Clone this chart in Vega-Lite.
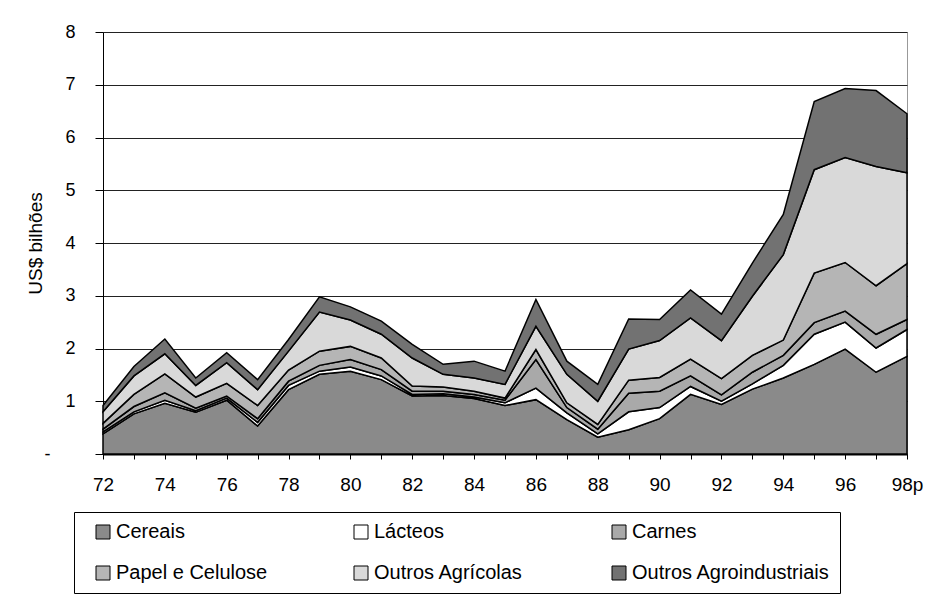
{
  "$schema": "https://vega.github.io/schema/vega-lite/v6.json",
  "width": 804,
  "height": 422,
  "autosize": "none",
  "padding": {"left": 103, "top": 32, "right": 35, "bottom": 155},
  "background": "white",
  "config": {
    "view": {"stroke": "#999999", "strokeWidth": 1},
    "font": "Liberation Sans"
  },
  "data": {
    "values": [
      {"ano": 72, "grupo": "Cereais", "ordem": 1, "valor": 0.38}, {"ano": 72, "grupo": "Lácteos", "ordem": 2, "valor": 0.04}, {"ano": 72, "grupo": "Carnes", "ordem": 3, "valor": 0.05}, {"ano": 72, "grupo": "Papel e Celulose", "ordem": 4, "valor": 0.11}, {"ano": 72, "grupo": "Outros Agrícolas", "ordem": 5, "valor": 0.22}, {"ano": 72, "grupo": "Outros Agroindustriais", "ordem": 6, "valor": 0.12},
      {"ano": 73, "grupo": "Cereais", "ordem": 1, "valor": 0.76}, {"ano": 73, "grupo": "Lácteos", "ordem": 2, "valor": 0.04}, {"ano": 73, "grupo": "Carnes", "ordem": 3, "valor": 0.10}, {"ano": 73, "grupo": "Papel e Celulose", "ordem": 4, "valor": 0.23}, {"ano": 73, "grupo": "Outros Agrícolas", "ordem": 5, "valor": 0.35}, {"ano": 73, "grupo": "Outros Agroindustriais", "ordem": 6, "valor": 0.18},
      {"ano": 74, "grupo": "Cereais", "ordem": 1, "valor": 0.96}, {"ano": 74, "grupo": "Lácteos", "ordem": 2, "valor": 0.06}, {"ano": 74, "grupo": "Carnes", "ordem": 3, "valor": 0.14}, {"ano": 74, "grupo": "Papel e Celulose", "ordem": 4, "valor": 0.36}, {"ano": 74, "grupo": "Outros Agrícolas", "ordem": 5, "valor": 0.38}, {"ano": 74, "grupo": "Outros Agroindustriais", "ordem": 6, "valor": 0.28},
      {"ano": 75, "grupo": "Cereais", "ordem": 1, "valor": 0.79}, {"ano": 75, "grupo": "Lácteos", "ordem": 2, "valor": 0.03}, {"ano": 75, "grupo": "Carnes", "ordem": 3, "valor": 0.05}, {"ano": 75, "grupo": "Papel e Celulose", "ordem": 4, "valor": 0.21}, {"ano": 75, "grupo": "Outros Agrícolas", "ordem": 5, "valor": 0.22}, {"ano": 75, "grupo": "Outros Agroindustriais", "ordem": 6, "valor": 0.14},
      {"ano": 76, "grupo": "Cereais", "ordem": 1, "valor": 1.02}, {"ano": 76, "grupo": "Lácteos", "ordem": 2, "valor": 0.04}, {"ano": 76, "grupo": "Carnes", "ordem": 3, "valor": 0.04}, {"ano": 76, "grupo": "Papel e Celulose", "ordem": 4, "valor": 0.24}, {"ano": 76, "grupo": "Outros Agrícolas", "ordem": 5, "valor": 0.39}, {"ano": 76, "grupo": "Outros Agroindustriais", "ordem": 6, "valor": 0.19},
      {"ano": 77, "grupo": "Cereais", "ordem": 1, "valor": 0.53}, {"ano": 77, "grupo": "Lácteos", "ordem": 2, "valor": 0.07}, {"ano": 77, "grupo": "Carnes", "ordem": 3, "valor": 0.07}, {"ano": 77, "grupo": "Papel e Celulose", "ordem": 4, "valor": 0.25}, {"ano": 77, "grupo": "Outros Agrícolas", "ordem": 5, "valor": 0.30}, {"ano": 77, "grupo": "Outros Agroindustriais", "ordem": 6, "valor": 0.19},
      {"ano": 78, "grupo": "Cereais", "ordem": 1, "valor": 1.22}, {"ano": 78, "grupo": "Lácteos", "ordem": 2, "valor": 0.08}, {"ano": 78, "grupo": "Carnes", "ordem": 3, "valor": 0.08}, {"ano": 78, "grupo": "Papel e Celulose", "ordem": 4, "valor": 0.21}, {"ano": 78, "grupo": "Outros Agrícolas", "ordem": 5, "valor": 0.36}, {"ano": 78, "grupo": "Outros Agroindustriais", "ordem": 6, "valor": 0.22},
      {"ano": 79, "grupo": "Cereais", "ordem": 1, "valor": 1.51}, {"ano": 79, "grupo": "Lácteos", "ordem": 2, "valor": 0.06}, {"ano": 79, "grupo": "Carnes", "ordem": 3, "valor": 0.11}, {"ano": 79, "grupo": "Papel e Celulose", "ordem": 4, "valor": 0.27}, {"ano": 79, "grupo": "Outros Agrícolas", "ordem": 5, "valor": 0.74}, {"ano": 79, "grupo": "Outros Agroindustriais", "ordem": 6, "valor": 0.29},
      {"ano": 80, "grupo": "Cereais", "ordem": 1, "valor": 1.57}, {"ano": 80, "grupo": "Lácteos", "ordem": 2, "valor": 0.08}, {"ano": 80, "grupo": "Carnes", "ordem": 3, "valor": 0.14}, {"ano": 80, "grupo": "Papel e Celulose", "ordem": 4, "valor": 0.25}, {"ano": 80, "grupo": "Outros Agrícolas", "ordem": 5, "valor": 0.50}, {"ano": 80, "grupo": "Outros Agroindustriais", "ordem": 6, "valor": 0.25},
      {"ano": 81, "grupo": "Cereais", "ordem": 1, "valor": 1.41}, {"ano": 81, "grupo": "Lácteos", "ordem": 2, "valor": 0.07}, {"ano": 81, "grupo": "Carnes", "ordem": 3, "valor": 0.12}, {"ano": 81, "grupo": "Papel e Celulose", "ordem": 4, "valor": 0.22}, {"ano": 81, "grupo": "Outros Agrícolas", "ordem": 5, "valor": 0.45}, {"ano": 81, "grupo": "Outros Agroindustriais", "ordem": 6, "valor": 0.25},
      {"ano": 82, "grupo": "Cereais", "ordem": 1, "valor": 1.10}, {"ano": 82, "grupo": "Lácteos", "ordem": 2, "valor": 0.03}, {"ano": 82, "grupo": "Carnes", "ordem": 3, "valor": 0.06}, {"ano": 82, "grupo": "Papel e Celulose", "ordem": 4, "valor": 0.10}, {"ano": 82, "grupo": "Outros Agrícolas", "ordem": 5, "valor": 0.53}, {"ano": 82, "grupo": "Outros Agroindustriais", "ordem": 6, "valor": 0.26},
      {"ano": 83, "grupo": "Cereais", "ordem": 1, "valor": 1.11}, {"ano": 83, "grupo": "Lácteos", "ordem": 2, "valor": 0.03}, {"ano": 83, "grupo": "Carnes", "ordem": 3, "valor": 0.05}, {"ano": 83, "grupo": "Papel e Celulose", "ordem": 4, "valor": 0.08}, {"ano": 83, "grupo": "Outros Agrícolas", "ordem": 5, "valor": 0.24}, {"ano": 83, "grupo": "Outros Agroindustriais", "ordem": 6, "valor": 0.19},
      {"ano": 84, "grupo": "Cereais", "ordem": 1, "valor": 1.05}, {"ano": 84, "grupo": "Lácteos", "ordem": 2, "valor": 0.03}, {"ano": 84, "grupo": "Carnes", "ordem": 3, "valor": 0.05}, {"ano": 84, "grupo": "Papel e Celulose", "ordem": 4, "valor": 0.06}, {"ano": 84, "grupo": "Outros Agrícolas", "ordem": 5, "valor": 0.25}, {"ano": 84, "grupo": "Outros Agroindustriais", "ordem": 6, "valor": 0.32},
      {"ano": 85, "grupo": "Cereais", "ordem": 1, "valor": 0.92}, {"ano": 85, "grupo": "Lácteos", "ordem": 2, "valor": 0.05}, {"ano": 85, "grupo": "Carnes", "ordem": 3, "valor": 0.05}, {"ano": 85, "grupo": "Papel e Celulose", "ordem": 4, "valor": 0.04}, {"ano": 85, "grupo": "Outros Agrícolas", "ordem": 5, "valor": 0.26}, {"ano": 85, "grupo": "Outros Agroindustriais", "ordem": 6, "valor": 0.25},
      {"ano": 86, "grupo": "Cereais", "ordem": 1, "valor": 1.03}, {"ano": 86, "grupo": "Lácteos", "ordem": 2, "valor": 0.22}, {"ano": 86, "grupo": "Carnes", "ordem": 3, "valor": 0.54}, {"ano": 86, "grupo": "Papel e Celulose", "ordem": 4, "valor": 0.19}, {"ano": 86, "grupo": "Outros Agrícolas", "ordem": 5, "valor": 0.44}, {"ano": 86, "grupo": "Outros Agroindustriais", "ordem": 6, "valor": 0.51},
      {"ano": 87, "grupo": "Cereais", "ordem": 1, "valor": 0.65}, {"ano": 87, "grupo": "Lácteos", "ordem": 2, "valor": 0.13}, {"ano": 87, "grupo": "Carnes", "ordem": 3, "valor": 0.10}, {"ano": 87, "grupo": "Papel e Celulose", "ordem": 4, "valor": 0.09}, {"ano": 87, "grupo": "Outros Agrícolas", "ordem": 5, "valor": 0.54}, {"ano": 87, "grupo": "Outros Agroindustriais", "ordem": 6, "valor": 0.25},
      {"ano": 88, "grupo": "Cereais", "ordem": 1, "valor": 0.32}, {"ano": 88, "grupo": "Lácteos", "ordem": 2, "valor": 0.06}, {"ano": 88, "grupo": "Carnes", "ordem": 3, "valor": 0.09}, {"ano": 88, "grupo": "Papel e Celulose", "ordem": 4, "valor": 0.09}, {"ano": 88, "grupo": "Outros Agrícolas", "ordem": 5, "valor": 0.44}, {"ano": 88, "grupo": "Outros Agroindustriais", "ordem": 6, "valor": 0.32},
      {"ano": 89, "grupo": "Cereais", "ordem": 1, "valor": 0.46}, {"ano": 89, "grupo": "Lácteos", "ordem": 2, "valor": 0.34}, {"ano": 89, "grupo": "Carnes", "ordem": 3, "valor": 0.35}, {"ano": 89, "grupo": "Papel e Celulose", "ordem": 4, "valor": 0.25}, {"ano": 89, "grupo": "Outros Agrícolas", "ordem": 5, "valor": 0.59}, {"ano": 89, "grupo": "Outros Agroindustriais", "ordem": 6, "valor": 0.57},
      {"ano": 90, "grupo": "Cereais", "ordem": 1, "valor": 0.67}, {"ano": 90, "grupo": "Lácteos", "ordem": 2, "valor": 0.21}, {"ano": 90, "grupo": "Carnes", "ordem": 3, "valor": 0.31}, {"ano": 90, "grupo": "Papel e Celulose", "ordem": 4, "valor": 0.26}, {"ano": 90, "grupo": "Outros Agrícolas", "ordem": 5, "valor": 0.70}, {"ano": 90, "grupo": "Outros Agroindustriais", "ordem": 6, "valor": 0.40},
      {"ano": 91, "grupo": "Cereais", "ordem": 1, "valor": 1.13}, {"ano": 91, "grupo": "Lácteos", "ordem": 2, "valor": 0.15}, {"ano": 91, "grupo": "Carnes", "ordem": 3, "valor": 0.20}, {"ano": 91, "grupo": "Papel e Celulose", "ordem": 4, "valor": 0.32}, {"ano": 91, "grupo": "Outros Agrícolas", "ordem": 5, "valor": 0.78}, {"ano": 91, "grupo": "Outros Agroindustriais", "ordem": 6, "valor": 0.53},
      {"ano": 92, "grupo": "Cereais", "ordem": 1, "valor": 0.94}, {"ano": 92, "grupo": "Lácteos", "ordem": 2, "valor": 0.06}, {"ano": 92, "grupo": "Carnes", "ordem": 3, "valor": 0.12}, {"ano": 92, "grupo": "Papel e Celulose", "ordem": 4, "valor": 0.31}, {"ano": 92, "grupo": "Outros Agrícolas", "ordem": 5, "valor": 0.72}, {"ano": 92, "grupo": "Outros Agroindustriais", "ordem": 6, "valor": 0.50},
      {"ano": 93, "grupo": "Cereais", "ordem": 1, "valor": 1.23}, {"ano": 93, "grupo": "Lácteos", "ordem": 2, "valor": 0.10}, {"ano": 93, "grupo": "Carnes", "ordem": 3, "valor": 0.22}, {"ano": 93, "grupo": "Papel e Celulose", "ordem": 4, "valor": 0.32}, {"ano": 93, "grupo": "Outros Agrícolas", "ordem": 5, "valor": 1.12}, {"ano": 93, "grupo": "Outros Agroindustriais", "ordem": 6, "valor": 0.63},
      {"ano": 94, "grupo": "Cereais", "ordem": 1, "valor": 1.44}, {"ano": 94, "grupo": "Lácteos", "ordem": 2, "valor": 0.24}, {"ano": 94, "grupo": "Carnes", "ordem": 3, "valor": 0.19}, {"ano": 94, "grupo": "Papel e Celulose", "ordem": 4, "valor": 0.29}, {"ano": 94, "grupo": "Outros Agrícolas", "ordem": 5, "valor": 1.62}, {"ano": 94, "grupo": "Outros Agroindustriais", "ordem": 6, "valor": 0.76},
      {"ano": 95, "grupo": "Cereais", "ordem": 1, "valor": 1.70}, {"ano": 95, "grupo": "Lácteos", "ordem": 2, "valor": 0.57}, {"ano": 95, "grupo": "Carnes", "ordem": 3, "valor": 0.22}, {"ano": 95, "grupo": "Papel e Celulose", "ordem": 4, "valor": 0.94}, {"ano": 95, "grupo": "Outros Agrícolas", "ordem": 5, "valor": 1.96}, {"ano": 95, "grupo": "Outros Agroindustriais", "ordem": 6, "valor": 1.29},
      {"ano": 96, "grupo": "Cereais", "ordem": 1, "valor": 1.99}, {"ano": 96, "grupo": "Lácteos", "ordem": 2, "valor": 0.51}, {"ano": 96, "grupo": "Carnes", "ordem": 3, "valor": 0.21}, {"ano": 96, "grupo": "Papel e Celulose", "ordem": 4, "valor": 0.92}, {"ano": 96, "grupo": "Outros Agrícolas", "ordem": 5, "valor": 1.99}, {"ano": 96, "grupo": "Outros Agroindustriais", "ordem": 6, "valor": 1.31},
      {"ano": 97, "grupo": "Cereais", "ordem": 1, "valor": 1.55}, {"ano": 97, "grupo": "Lácteos", "ordem": 2, "valor": 0.46}, {"ano": 97, "grupo": "Carnes", "ordem": 3, "valor": 0.26}, {"ano": 97, "grupo": "Papel e Celulose", "ordem": 4, "valor": 0.92}, {"ano": 97, "grupo": "Outros Agrícolas", "ordem": 5, "valor": 2.26}, {"ano": 97, "grupo": "Outros Agroindustriais", "ordem": 6, "valor": 1.44},
      {"ano": 98, "grupo": "Cereais", "ordem": 1, "valor": 1.85}, {"ano": 98, "grupo": "Lácteos", "ordem": 2, "valor": 0.51}, {"ano": 98, "grupo": "Carnes", "ordem": 3, "valor": 0.19}, {"ano": 98, "grupo": "Papel e Celulose", "ordem": 4, "valor": 1.06}, {"ano": 98, "grupo": "Outros Agrícolas", "ordem": 5, "valor": 1.72}, {"ano": 98, "grupo": "Outros Agroindustriais", "ordem": 6, "valor": 1.12}
    ]
  },
  "mark": {"type": "area", "stroke": "black", "strokeWidth": 1.5, "interpolate": "linear", "opacity": 1},
  "encoding": {
    "x": {
      "field": "ano",
      "type": "quantitative",
      "scale": {"domain": [72, 98], "nice": false, "zero": false},
      "axis": {
        "title": null,
        "values": [72, 73, 74, 75, 76, 77, 78, 79, 80, 81, 82, 83, 84, 85, 86, 87, 88, 89, 90, 91, 92, 93, 94, 95, 96, 97, 98],
        "labelExpr": "datum.value % 2 === 0 ? (datum.value === 98 ? '98p' : datum.label) : ''",
        "grid": false,
        "domainColor": "black",
        "domainWidth": 2,
        "tickColor": "black",
        "tickSize": 5,
        "labelPadding": 16,
        "labelFontSize": 19,
        "labelColor": "black",
        "labelFlush": false,
        "labelOverlap": false
      }
    },
    "y": {
      "field": "valor",
      "type": "quantitative",
      "stack": "zero",
      "scale": {"domain": [0, 8], "nice": false},
      "axis": {
        "title": "US$ bilhões",
        "values": [0, 1, 2, 3, 4, 5, 6, 7, 8],
        "labelExpr": "datum.value === 0 ? '-' : datum.label",
        "grid": true,
        "gridColor": "#222222",
        "gridWidth": 1,
        "domainColor": "black",
        "domainWidth": 1,
        "tickColor": "black",
        "tickSize": 8,
        "labelPadding": {"condition": {"test": "datum.value === 0", "value": 45}, "value": 20},
        "labelFontSize": 18,
        "labelColor": "black",
        "titleFontSize": 19,
        "titleFontWeight": "normal",
        "titleColor": "black",
        "titleX": -58
      }
    },
    "order": {"field": "ordem", "type": "quantitative", "sort": "ascending"},
    "color": {
      "field": "grupo",
      "type": "nominal",
      "sort": ["Cereais", "Lácteos", "Carnes", "Papel e Celulose", "Outros Agrícolas", "Outros Agroindustriais"],
      "scale": {
        "domain": ["Cereais", "Lácteos", "Carnes", "Papel e Celulose", "Outros Agrícolas", "Outros Agroindustriais"],
        "range": ["#8a8a8a", "#ffffff", "#a9a9a9", "#b5b5b5", "#d9d9d9", "#727272"]
      },
      "legend": {
        "title": null,
        "orient": "none",
        "legendX": -29,
        "legendY": 480,
        "direction": "horizontal",
        "columns": 3,
        "gridAlign": "all",
        "columnPadding": 28,
        "rowPadding": 21,
        "padding": 10,
        "symbolOffset": 9,
        "symbolType": "square",
        "symbolSize": 196,
        "symbolStrokeColor": "black",
        "symbolStrokeWidth": 1,
        "symbolOpacity": 1,
        "labelFontSize": 20,
        "labelOffset": 3,
        "labelLimit": 400,
        "labelColor": "black",
        "strokeColor": "black",
        "fillColor": "white"
      }
    }
  }
}
